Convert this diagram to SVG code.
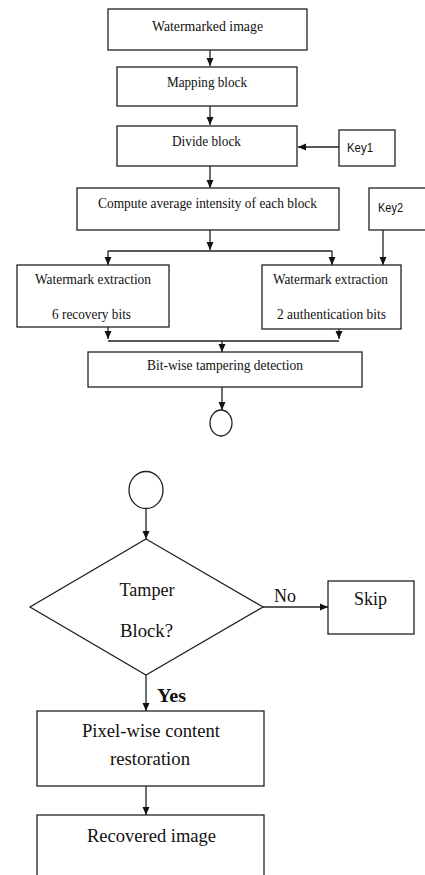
<svg xmlns="http://www.w3.org/2000/svg" width="425" height="875" viewBox="0 0 425 875">
<style>
.box{fill:#fff;stroke:#222;stroke-width:1.3}
.ln{fill:none;stroke:#222;stroke-width:1.3}
.t{font-family:"Liberation Serif","Times New Roman",serif;fill:#111;text-anchor:middle}
.s{font-size:15.5px}
.b{font-size:19px}
.k{font-family:"Liberation Sans",Arial,sans-serif;font-size:13.5px;fill:#111}
</style>
<defs>
<marker id="ah" markerUnits="userSpaceOnUse" markerWidth="8" markerHeight="8" refX="8" refY="4" orient="auto">
<path d="M0,0.5 L8,4 L0,7.5 z" fill="#111"/>
</marker>
</defs>
<rect width="425" height="875" fill="#fff"/>
<g id="connectors">
<line class="ln" x1="210" y1="50" x2="210" y2="66" marker-end="url(#ah)"/>
<line class="ln" x1="210" y1="106" x2="210" y2="125" marker-end="url(#ah)"/>
<line class="ln" x1="339" y1="147" x2="298" y2="147" marker-end="url(#ah)"/>
<line class="ln" x1="210" y1="166" x2="210" y2="188" marker-end="url(#ah)"/>
<line class="ln" x1="210" y1="230" x2="210" y2="250" marker-end="url(#ah)"/>
<polyline class="ln" points="108,251 332,251"/>
<line class="ln" x1="108" y1="251" x2="108" y2="265" marker-end="url(#ah)"/>
<line class="ln" x1="332" y1="251" x2="332" y2="265" marker-end="url(#ah)"/>
<line class="ln" x1="383" y1="230" x2="383" y2="265" marker-end="url(#ah)"/>
<line class="ln" x1="108" y1="327" x2="108" y2="339" marker-end="url(#ah)"/>
<line class="ln" x1="339" y1="329" x2="339" y2="339" marker-end="url(#ah)"/>
<polyline class="ln" points="108,341 339,341"/>
<line class="ln" x1="222" y1="341" x2="222" y2="352" marker-end="url(#ah)"/>
<line class="ln" x1="222" y1="387" x2="222" y2="410" marker-end="url(#ah)"/>
<line class="ln" x1="146" y1="508" x2="146" y2="539" marker-end="url(#ah)"/>
<line class="ln" x1="263" y1="607" x2="328" y2="607" marker-end="url(#ah)"/>
<text class="t" x="285" y="602" font-size="18" textLength="22" lengthAdjust="spacingAndGlyphs">No</text>
<line class="ln" x1="146" y1="675" x2="146" y2="711" marker-end="url(#ah)"/>
<text class="t" x="171.5" y="702" font-size="18" font-weight="bold" textLength="29" lengthAdjust="spacingAndGlyphs">Yes</text>
<line class="ln" x1="146" y1="786" x2="146" y2="815" marker-end="url(#ah)"/>
</g>
<g id="watermarked">
<rect class="box" x="108" y="9" width="199" height="41"/>
<text class="t s" x="207.5" y="31" textLength="111" lengthAdjust="spacingAndGlyphs">Watermarked image</text>
</g>
<g id="mapping">
<rect class="box" x="117" y="67" width="180" height="39"/>
<text class="t s" x="207" y="87" textLength="80" lengthAdjust="spacingAndGlyphs">Mapping block</text>
</g>
<g id="divide">
<rect class="box" x="117" y="126" width="180" height="40"/>
<text class="t s" x="206.5" y="146" textLength="69" lengthAdjust="spacingAndGlyphs">Divide block</text>
</g>
<g id="key1">
<rect class="box" x="339" y="130" width="56" height="36"/>
<text class="k" x="347" y="152" textLength="26" lengthAdjust="spacingAndGlyphs">Key1</text>
</g>
<g id="compute">
<rect class="box" x="77" y="188" width="262" height="42"/>
<text class="t s" x="207.5" y="208" textLength="219" lengthAdjust="spacingAndGlyphs">Compute average intensity of each block</text>
</g>
<g id="key2">
<rect class="box" x="369" y="188" width="60" height="42"/>
<text class="k" x="378" y="212" textLength="25" lengthAdjust="spacingAndGlyphs">Key2</text>
</g>
<g id="extract-recovery">
<rect class="box" x="17" y="265" width="152" height="62"/>
<text class="t s" x="93" y="284" textLength="116" lengthAdjust="spacingAndGlyphs">Watermark extraction</text>
<text class="t s" x="91.5" y="319" textLength="79" lengthAdjust="spacingAndGlyphs">6 recovery bits</text>
</g>
<g id="extract-auth">
<rect class="box" x="262" y="265" width="139" height="64"/>
<text class="t s" x="330.5" y="284" textLength="115" lengthAdjust="spacingAndGlyphs">Watermark extraction</text>
<text class="t s" x="331.5" y="319" textLength="109" lengthAdjust="spacingAndGlyphs">2 authentication bits</text>
</g>
<g id="bitwise">
<rect class="box" x="88" y="352" width="274" height="35"/>
<text class="t s" x="225" y="370" textLength="156" lengthAdjust="spacingAndGlyphs">Bit-wise tampering detection</text>
</g>
<g id="connector-a">
<ellipse class="box" cx="221" cy="423" rx="11" ry="13"/>
</g>
<g id="connector-b">
<ellipse class="box" cx="146" cy="490" rx="17" ry="18.5"/>
</g>
<g id="tamper">
<polygon class="box" points="146,539 263,607 146,675 30,607"/>
<text class="t" x="147" y="596" font-size="19" textLength="55" lengthAdjust="spacingAndGlyphs">Tamper</text>
<text class="t" x="146.5" y="637" font-size="19" textLength="53" lengthAdjust="spacingAndGlyphs">Block?</text>
</g>
<g id="skip">
<rect class="box" x="328" y="581" width="86" height="53"/>
<text class="t" x="370.5" y="605" font-size="19" textLength="33" lengthAdjust="spacingAndGlyphs">Skip</text>
</g>
<g id="restoration">
<rect class="box" x="37" y="711" width="227" height="75"/>
<text class="t b" x="151" y="737" textLength="138" lengthAdjust="spacingAndGlyphs">Pixel-wise content</text>
<text class="t b" x="150" y="765" textLength="80" lengthAdjust="spacingAndGlyphs">restoration</text>
</g>
<g id="recovered">
<rect class="box" x="37" y="815" width="227" height="80"/>
<text class="t b" x="151.5" y="842" textLength="129" lengthAdjust="spacingAndGlyphs">Recovered image</text>
</g>
</svg>
